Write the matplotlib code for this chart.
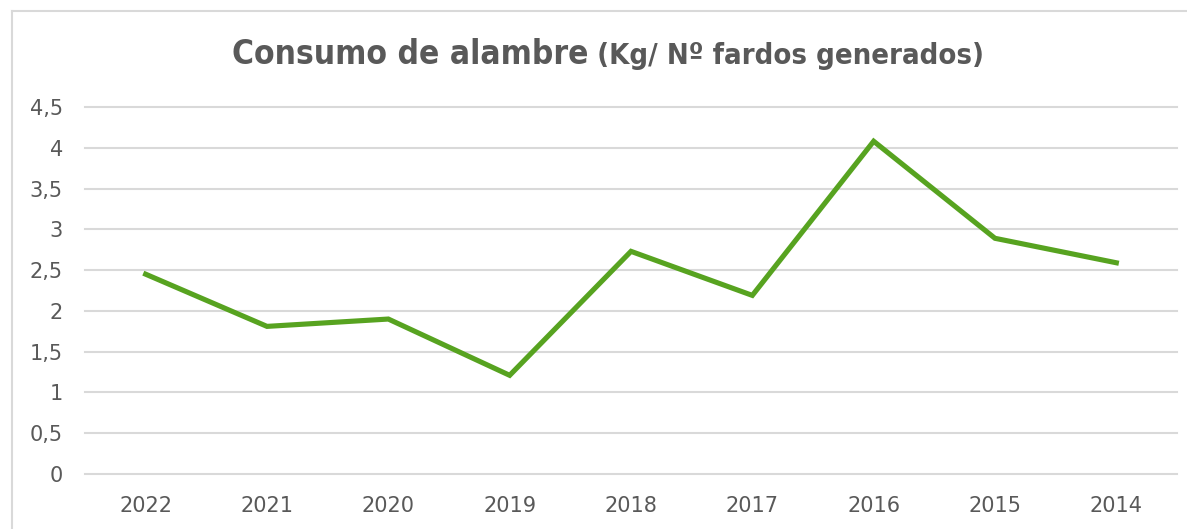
import matplotlib
matplotlib.use("Agg")
import matplotlib.pyplot as plt
from matplotlib.lines import Line2D

years = ["2022", "2021", "2020", "2019", "2018", "2017", "2016", "2015", "2014"]
consumo = [2.45, 1.81, 1.90, 1.21, 2.73, 2.19, 4.08, 2.89, 2.59]
yticks = [0, 0.5, 1, 1.5, 2, 2.5, 3, 3.5, 4, 4.5]
ytick_labels = ["0", "0,5", "1", "1,5", "2", "2,5", "3", "3,5", "4", "4,5"]
title_main = "Consumo de alambre"
title_sub = " (Kg/ Nº fardos generados)"

W, H = 1187, 529
fig = plt.figure(figsize=(W / 100, H / 100), dpi=100)
fig.patch.set_facecolor("white")

# chart border (top and left visible)
bx, by = 12 / W, 1 - 11 / H
fig.add_artist(Line2D([bx, 1.0], [by, by], transform=fig.transFigure,
                      color="#D9D9D9", linewidth=1.5))
fig.add_artist(Line2D([bx, bx], [0.0, by], transform=fig.transFigure,
                      color="#D9D9D9", linewidth=1.5))

ax = fig.add_axes([85 / W, 1 - 474 / H, (1177 - 85) / W, (474 - 107) / H])
x = list(range(len(years)))
ax.plot(x, consumo, color="#57A320", linewidth=3.7, solid_joinstyle="miter", zorder=3)
ax.set_xlim(-0.5, len(years) - 0.5)
ax.set_ylim(0, 4.5)
ax.set_yticks(yticks)
ax.set_yticklabels(ytick_labels)
ax.set_xticks(x)
ax.set_xticklabels(years)
for s in ax.spines.values():
    s.set_visible(False)
ax.grid(axis="y", color="#D9D9D9", linewidth=1.5)
for gl in ax.get_ygridlines():
    gl.set_clip_on(False)
ax.set_axisbelow(True)
ax.tick_params(axis="both", length=0, labelcolor="#595959", labelsize=15)
ax.tick_params(axis="y", pad=16)
ax.tick_params(axis="x", pad=16)

fig.canvas.draw()
r = fig.canvas.get_renderer()
t1 = fig.text(0, 1 - 64 / H, title_main, fontsize=24, fontweight="bold",
              fontstretch="condensed", color="#595959", ha="left", va="baseline")
t2 = fig.text(0, 1 - 64 / H, title_sub, fontsize=21, fontweight="bold",
              fontstretch="condensed", color="#595959", ha="left", va="baseline")
w1 = t1.get_window_extent(r).width
start = 232
t1.set_x(start / W)
t2.set_x((start + w1) / W)

fig.savefig("out.png", dpi=100, facecolor="white")
